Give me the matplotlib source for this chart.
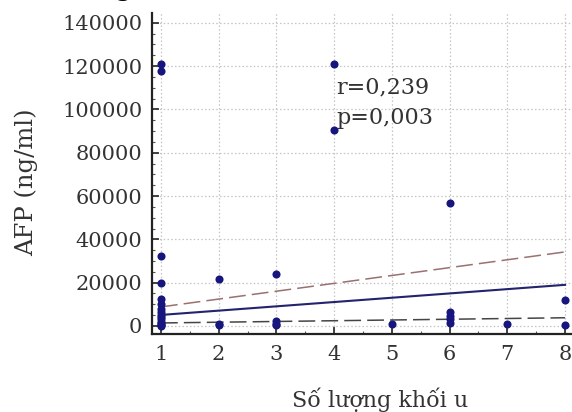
import matplotlib
matplotlib.use("Agg")
import matplotlib.pyplot as plt
from matplotlib.ticker import MultipleLocator

# Data
x_counts = [1]*16 + [2]*3 + [3]*4 + [4]*2 + [5] + [6]*5 + [7] + [8]*2
afp = [121000, 117500, 32500, 20000, 12500, 10000, 8000, 6500, 5000, 4000, 3000, 2000, 1200, 600, 300, 100,
       21800, 1000, 300,
       23800, 2500, 1000, 300,
       121000, 90500,
       1000,
       57000, 6500, 4500, 3000, 1500,
       800,
       12000, 600]

fit_x = [1, 8]
fit_y = [5100, 19000]
upper_y = [8800, 34200]
lower_y = [1400, 3800]

yticks = [0, 20000, 40000, 60000, 80000, 100000, 120000, 140000]
xticks = [1, 2, 3, 4, 5, 6, 7, 8]
annot = "r=0,239\np=0,003"
xlabel = "Số lượng khối u"
ylabel = "AFP (ng/ml)"

plt.rcParams['font.family'] = ['DejaVu Serif']

fig = plt.figure(figsize=(5.72, 4.12), dpi=100)
ax = fig.add_axes([152/572, 78/412, 420/572, 321/412])

ax.set_xlim(0.845, 8.12)
ax.set_ylim(-3700, 144500)

ax.grid(True, which='major', color='#c4c4c4', linestyle=(0, (1.2, 1.8)), linewidth=0.9)
ax.set_axisbelow(True)

ax.plot(fit_x, upper_y, color='#9a7070', linestyle=(0, (11, 4)), linewidth=1.1)
ax.plot(fit_x, lower_y, color='#454545', linestyle=(0, (11, 4)), linewidth=1.1)
ax.plot(fit_x, fit_y, color='#23236e', linewidth=1.5)

ax.scatter(x_counts, afp, s=34, color='#16167e', zorder=3, linewidths=0)

ax.set_xticks(xticks)
ax.set_yticks(yticks)
ax.xaxis.set_minor_locator(MultipleLocator(0.5))
ax.yaxis.set_minor_locator(MultipleLocator(5000))
ax.tick_params(which='major', direction='in', length=5, width=1.2, colors='#222222',
               labelsize=15, labelcolor='#333333')
ax.tick_params(axis='y', which='major', pad=7)
ax.tick_params(axis='x', which='major', pad=8)
ax.tick_params(which='minor', direction='in', length=2.5, width=0.8, colors='#555555')

for s in ['top', 'right']:
    ax.spines[s].set_visible(False)
for s in ['left', 'bottom']:
    ax.spines[s].set_linewidth(1.6)
    ax.spines[s].set_color('#222222')

ax.text(4.03, 115000, annot, fontsize=16, color='#333333', va='top', ha='left',
        linespacing=1.45)

fig.text(380/572, 1 - 400/412, xlabel, fontsize=16, color='#333333', ha='center', va='center')
fig.text(26/572, 1 - 182/412, ylabel, fontsize=17.5, color='#333333', ha='center', va='center',
         rotation=90)

# cut-off title at top edge
fig.text(100/572, 1 + 3/412, "ng .", fontsize=16, fontweight='bold', family='DejaVu Sans',
         color='black', ha='left', va='baseline')

fig.savefig("out.png", dpi=100)
